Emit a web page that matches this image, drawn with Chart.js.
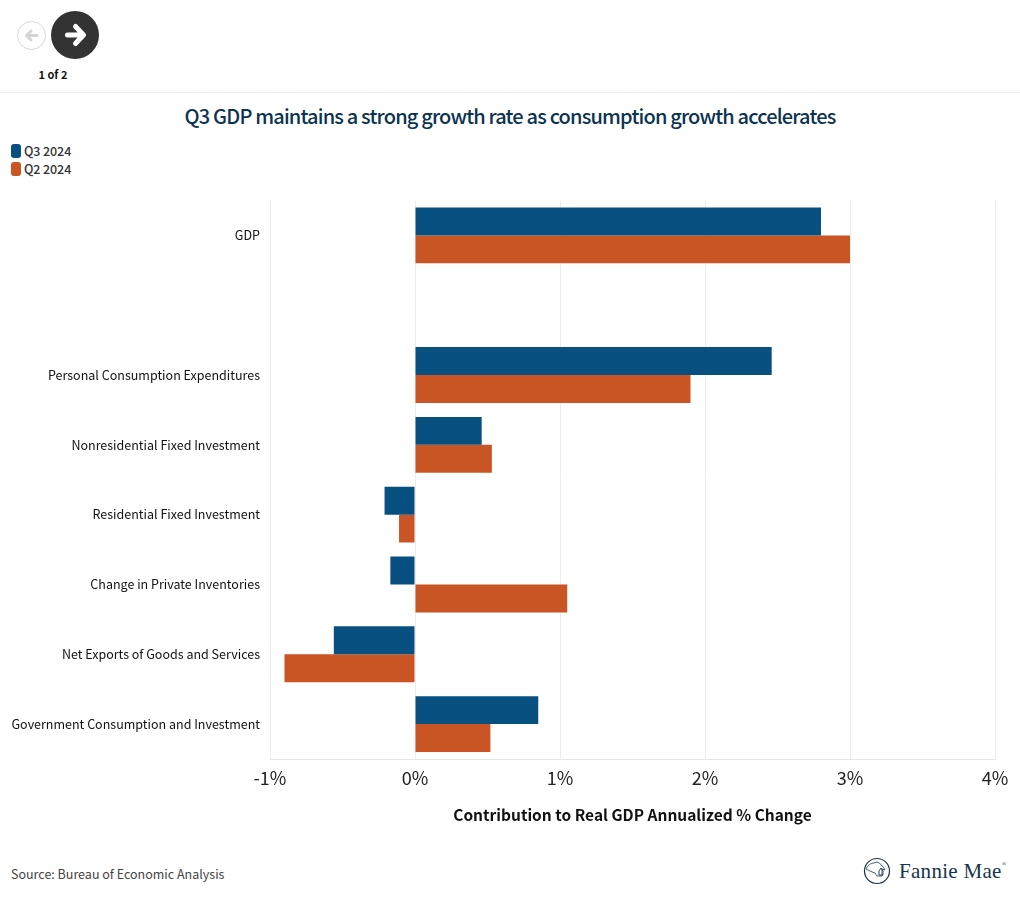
<!DOCTYPE html>
<html>
<head>
<meta charset="utf-8">
<title>Q3 GDP</title>
<script src="https://cdn.jsdelivr.net/npm/chart.js@4"></script>
<style>
  html, body { margin: 0; padding: 0; background: #fff; }
  body { width: 1020px; height: 911px; position: relative; overflow: hidden;
         font-family: "Noto Sans CJK SC", "Noto Sans", sans-serif; color: #222; }
  .abs { position: absolute; white-space: nowrap; }
  #nav-prev, #nav-next { position: absolute; border-radius: 50%; box-sizing: border-box; }
  #nav-prev { left: 17px; top: 21px; width: 29px; height: 29px; border: 1px solid #d8d8d8; background: #fff; }
  #nav-next { left: 51px; top: 11px; width: 48px; height: 48px; background: #333; }
  #page { left: 0; top: 66px; width: 106px; text-align: center; font-size: 11px; font-weight: 700; line-height: 16px; color: #111; }
  #rule { left: 0; top: 92px; width: 1020px; height: 1px; background: #ececec; }
  #title { left: 0; top: 100px; width: 1020px; text-align: center; font-size: 20px; font-weight: 500;
           line-height: 32px; color: #0c3350; letter-spacing: -0.83px; }
  .key { left: 11px; width: 10px; height: 14px; border-radius: 3px; }
  .key-label { left: 24px; font-size: 12.5px; font-weight: 500; line-height: 18px; color: #333; letter-spacing: -0.1px; }
  #source { left: 11px; top: 865px; font-size: 12.5px; line-height: 18px; color: #444; }
  #logo-text { left: 899px; top: 857px; font-family: "Liberation Serif", serif; font-size: 21px; line-height: 28px; color: #17334d; letter-spacing: 0.3px; }
  #wrap { position: absolute; left: 0; top: 183px; width: 1020px; height: 657px; }
</style>
</head>
<body>
<div id="nav-prev">
  <svg width="27" height="27" viewBox="0 0 27 27"><path d="M19 13.5H9M13 9l-4.5 4.5 4.5 4.5" fill="none" stroke="#d4d4d4" stroke-width="3" stroke-linecap="round" stroke-linejoin="round"/></svg>
</div>
<div id="nav-next">
  <svg width="48" height="48" viewBox="0 0 48 48"><path d="M16.5 24H31M24.5 15.5l8 8.500-8 8.500" fill="none" stroke="#fff" stroke-width="5" stroke-linecap="round" stroke-linejoin="round"/></svg>
</div>
<div class="abs" id="page">1 of 2</div>
<div class="abs" id="rule"></div>
<div class="abs" id="title">Q3 GDP maintains a strong growth rate as consumption growth accelerates</div>
<div class="abs key" style="top:144px;background:#07507f"></div>
<div class="abs key-label" style="top:142px">Q3 2024</div>
<div class="abs key" style="top:162px;background:#c85523"></div>
<div class="abs key-label" style="top:160px">Q2 2024</div>

<div id="wrap"><canvas id="gdpChart" width="1020" height="657"></canvas></div>

<div class="abs" id="source">Source: Bureau of Economic Analysis</div>
<svg class="abs" style="left:862px;top:856px" width="30" height="30" viewBox="0 0 30 30">
  <circle cx="15" cy="15" r="12.5" fill="none" stroke="#17334d" stroke-width="1.2"/>
  <path d="M4 13c2-4 5-6 8-6l3-1c3 1 6 4 8 8l-3-1v7h-5l-2-3c-3-1-5-2-9-4z" fill="none" stroke="#17334d" stroke-width="0.8"/>
  <path d="M17 15l2-3 2 3v4h-4z" fill="none" stroke="#17334d" stroke-width="0.9"/>
</svg>
<div class="abs" id="logo-text">Fannie Mae<sup style="font-size:6px;vertical-align:top;line-height:14px">®</sup></div>

<script>
const CATEGORIES = [
  "GDP", "",
  "Personal Consumption Expenditures",
  "Nonresidential Fixed Investment",
  "Residential Fixed Investment",
  "Change in Private Inventories",
  "Net Exports of Goods and Services",
  "Government Consumption and Investment",
];
const Q3_2024 = [2.8, null, 2.46, 0.46, -0.21, -0.17, -0.56, 0.85];
const Q2_2024 = [3.0, null, 1.9, 0.53, -0.11, 1.05, -0.9, 0.52];
const X_TITLE = "Contribution to Real GDP Annualized % Change";
const FONT = '"Noto Sans CJK SC", "Noto Sans", sans-serif';

new Chart(document.getElementById("gdpChart"), {
  type: "bar",
  data: {
    labels: CATEGORIES,
    datasets: [
      { label: "Q3 2024", data: Q3_2024, backgroundColor: "#07507f", borderWidth: 0 },
      { label: "Q2 2024", data: Q2_2024, backgroundColor: "#c85523", borderWidth: 0 },
    ],
  },
  options: {
    indexAxis: "y",
    responsive: false,
    animation: false,
    categoryPercentage: 0.8,
    barPercentage: 1,
    layout: { padding: { top: 2, right: 25, left: 0, bottom: 0 } },
    plugins: { legend: { display: false }, tooltip: { enabled: false } },
    scales: {
      x: {
        min: -1, max: 4,
        afterFit: s => { s.height = 81; },
        grid: { color: "#ececec", drawTicks: false },
        border: { color: "#e6e6e6" },
        ticks: { stepSize: 1, padding: 8, color: "#222", font: { family: FONT, size: 18 },
                 maxRotation: 0, callback: v => v + "%" },
        title: { display: true, text: X_TITLE, color: "#111", padding: { top: 3, bottom: 16 },
                 font: { family: FONT, size: 15.5, weight: "700" } },
      },
      y: {
        afterFit: s => { s.width = 270; },
        grid: { display: false, drawTicks: false },
        border: { color: "#ececec" },
        ticks: { padding: 10, color: "#111", autoSkip: false, font: { family: FONT, size: 12.5 } },
      },
    },
  },
});
</script>
</body>
</html>
